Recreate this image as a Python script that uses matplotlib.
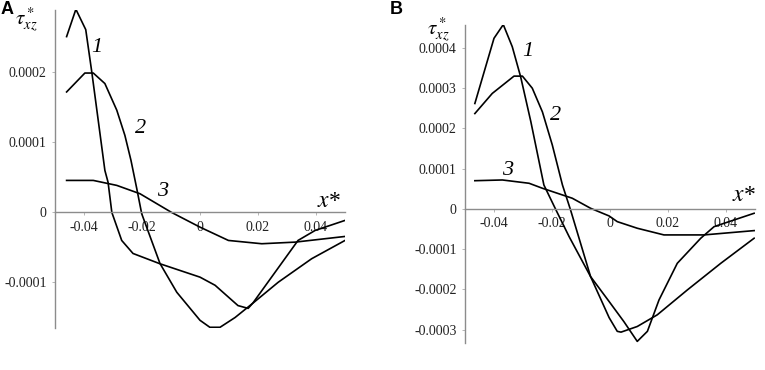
import matplotlib as mpl
mpl.use('Agg')
import matplotlib.pyplot as plt

plt.rcParams['font.family'] = ['Liberation Serif', 'DejaVu Serif']
plt.rcParams['mathtext.fontset'] = 'stix'

# panel A curves (x*, tau*_xz)
a1_x = [-0.046, -0.0428, -0.0394, -0.0373, -0.0328, -0.0317, -0.0304, -0.027, -0.0231,
        -0.0138, 0.0, 0.0052, 0.0131, 0.0166, 0.0183, 0.0338, 0.0397, 0.05]
a1_y = [0.000251, 0.00029, 0.000261, 0.0002, 0.00006, 0.000043, 0.0, -0.00004, -0.0000586,
        -0.0000733, -0.0000924, -0.000104, -0.000133, -0.000137, -0.000129, -0.00004, -0.0000257, -0.0000114]
a2_x = [-0.046, -0.0397, -0.0368, -0.0328, -0.0287, -0.0259, -0.0238, -0.0218, -0.0201, -0.0138,
        -0.008, 0.0, 0.0034, 0.0069, 0.0121, 0.0184, 0.027, 0.0385, 0.05]
a2_y = [0.000172, 0.000199, 0.000199, 0.000184, 0.000146, 0.00011, 0.0000743, 0.0000339, -0.0000019,
        -0.0000729, -0.000114, -0.000154, -0.000164, -0.000164, -0.00015, -0.000129, -0.0000996, -0.0000661, -0.00004]
a3_x = [-0.046, -0.0368, -0.0287, -0.0207, -0.0098, 0.0, 0.0098, 0.0213, 0.0328, 0.05]
a3_y = [0.0000457, 0.0000457, 0.0000386, 0.0000267, 0.0, -0.000021, -0.00004, -0.0000447, -0.0000424, -0.0000343]

# panel B curves
b1_x = [-0.0466, -0.04, -0.0368, -0.0337, -0.0308, -0.0273, -0.0228, -0.0188, -0.0141, -0.0067,
        -0.0003, 0.0048, 0.0094, 0.0129, 0.0169, 0.0232, 0.0313, 0.0359, 0.0497]
b1_y = [0.000262, 0.000424, 0.000458, 0.000403, 0.000328, 0.000217, 0.0000596, 0.0, -0.0000687, -0.000168,
        -0.00023, -0.00028, -0.000329, -0.000304, -0.000226, -0.000135, -0.0000727, -0.0000439, -0.0000107]
b2_x = [-0.0466, -0.0406, -0.0331, -0.0302, -0.0268, -0.0233, -0.0199, -0.0164, -0.0136, -0.0067,
        -0.0003, 0.0025, 0.0038, 0.0094, 0.0163, 0.0267, 0.0382, 0.0497]
b2_y = [0.000237, 0.000287, 0.00033, 0.00033, 0.0003, 0.000241, 0.000159, 0.0000596, -0.0000025, -0.000168,
        -0.00027, -0.000304, -0.000306, -0.000292, -0.000263, -0.000201, -0.000135, -0.0000727]
b3_x = [-0.0466, -0.0371, -0.0279, -0.0233, -0.013, -0.0067, -0.0003, 0.0025, 0.0094, 0.0186, 0.0324, 0.0497]
b3_y = [0.0000702, 0.000072, 0.0000638, 0.0000514, 0.0000266, 0.0000017, -0.0000174, -0.0000315,
        -0.0000479, -0.0000645, -0.0000645, -0.0000538]

x_ticks = [-0.04, -0.02, 0, 0.02, 0.04]
x_labels = ['-0.04', '-0.02', '0', '0.02', '0.04']
a_yticks = [-0.0001, 0, 0.0001, 0.0002]
a_ylabels = ['-0.0001', '0', '0.0001', '0.0002']
b_yticks = [-0.0003, -0.0002, -0.0001, 0, 0.0001, 0.0002, 0.0003, 0.0004]
b_ylabels = ['-0.0003', '-0.0002', '-0.0001', '0', '0.0001', '0.0002', '0.0003', '0.0004']

W, H = 765, 370
fig = plt.figure(figsize=(W / 100, H / 100), dpi=100)


def make_axes(left, right, top, bottom, ylim, yticks, ylabels):
    ax = fig.add_axes([left / W, 1 - bottom / H, (right - left) / W, (bottom - top) / H])
    ax.set_xlim(-0.05, 0.05)
    ax.set_ylim(*ylim)
    ax.spines['top'].set_visible(False)
    ax.spines['right'].set_visible(False)
    ax.spines['bottom'].set_position(('data', 0))
    for s in ('left', 'bottom'):
        ax.spines[s].set_color('#8c8c8c')
        ax.spines[s].set_linewidth(1.0)
    ax.set_xticks(x_ticks)
    ax.set_xticklabels(x_labels)
    ax.set_yticks(yticks)
    ax.set_yticklabels(ylabels)
    ax.tick_params(length=2, width=0.6, color='#aaaaaa', labelsize=10, labelcolor='#222222')
    ax.tick_params(axis='x', pad=4)
    ax.tick_params(axis='y', pad=4)
    return ax


ax0 = make_axes(55, 345, 10, 328, (-0.000165, 0.000289), a_yticks, a_ylabels)
for xs, ys in ((a1_x, a1_y), (a2_x, a2_y), (a3_x, a3_y)):
    ax0.plot(xs, ys, color='black', lw=1.2)
ax0.text(-0.0355, 0.000235, '1', fontsize=16, style='italic', ha='center', va='center')
ax0.text(-0.0205, 0.00012, '2', fontsize=16, style='italic', ha='center', va='center')
ax0.text(-0.0128, 0.00003, '3', fontsize=16, style='italic', ha='center', va='center')
ax0.text(0.0445, 0.0000155, '$x$*', fontsize=17, ha='center', va='center')

ax1 = make_axes(465, 755, 25, 343, (-0.000333, 0.000457), b_yticks, b_ylabels)
for xs, ys in ((b1_x, b1_y), (b2_x, b2_y), (b3_x, b3_y)):
    ax1.plot(xs, ys, color='black', lw=1.2)
ax1.text(-0.0285, 0.000392, '1', fontsize=16, style='italic', ha='center', va='center')
ax1.text(-0.0188, 0.000233, '2', fontsize=16, style='italic', ha='center', va='center')
ax1.text(-0.0352, 0.0000967, '3', fontsize=16, style='italic', ha='center', va='center')
ax1.text(0.0462, 0.0000335, '$x$*', fontsize=17, ha='center', va='center')

fig.text(26 / W, 1 - 20 / H, r'$\tau^*_{xz}$', fontsize=15, ha='center', va='center')
fig.text(438 / W, 1 - 30 / H, r'$\tau^*_{xz}$', fontsize=15, ha='center', va='center')
fig.text(1 / W, 1 - 9 / H, 'A', fontsize=13, weight='bold', family='Liberation Sans', ha='left', va='center')
fig.text(390 / W, 1 - 10 / H, 'B', fontsize=13, weight='bold', family='Liberation Sans', ha='left', va='center')

fig.savefig('out.png', dpi=100)
